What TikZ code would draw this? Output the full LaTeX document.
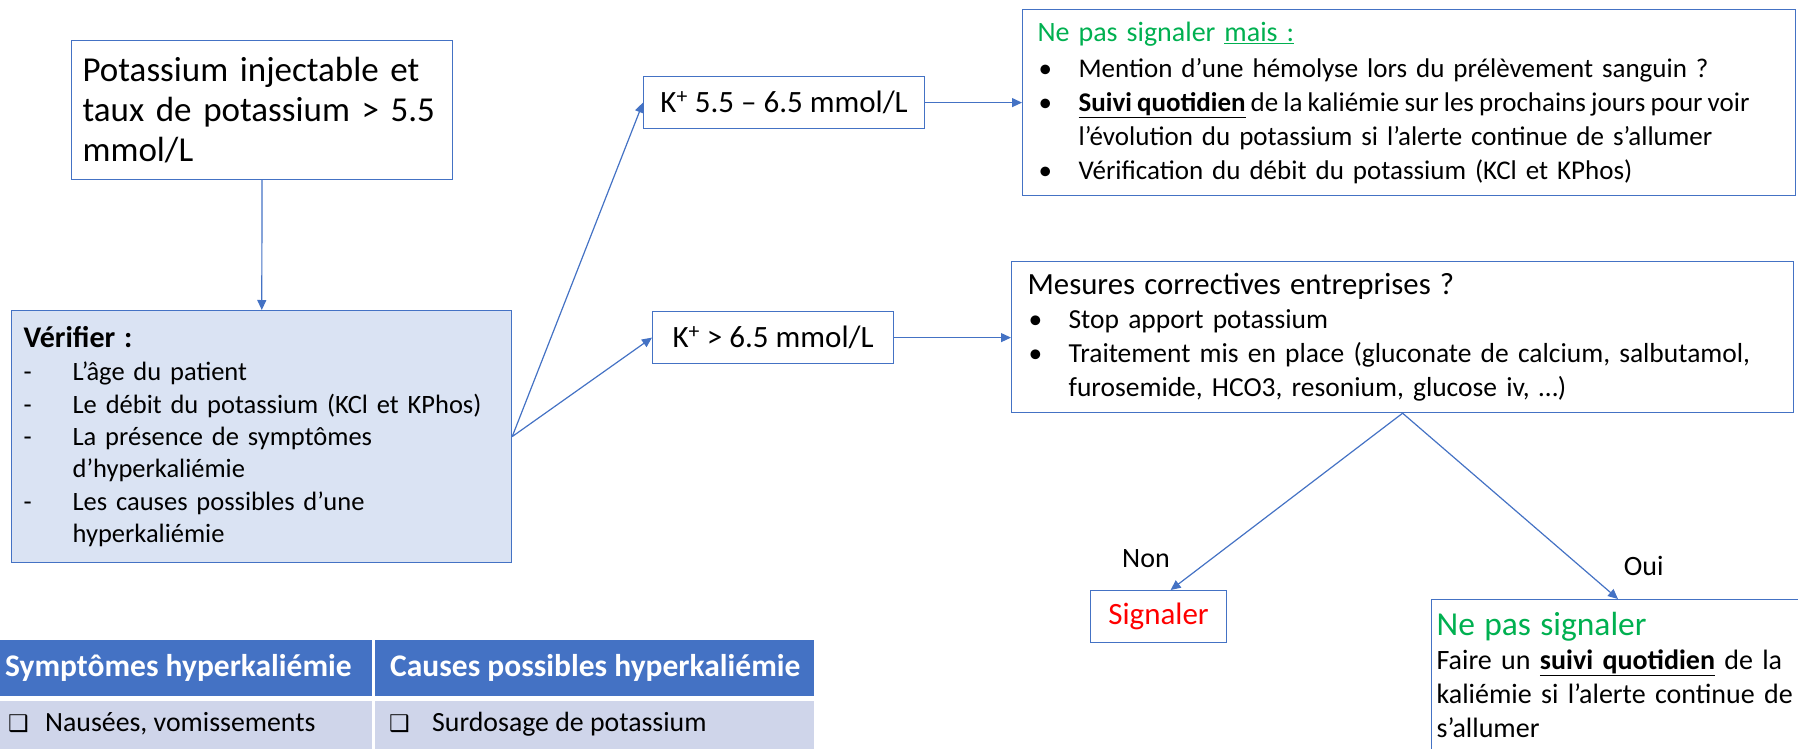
\documentclass[tikz,border=0pt]{standalone}
\usepackage{fontspec}
\setmainfont{Carlito}
\newfontfamily\symfont{DejaVu Sans}
\usetikzlibrary{arrows.meta,positioning}

\definecolor{boxblue}{HTML}{4472C4}
\definecolor{lightblue}{HTML}{DAE3F3}
\definecolor{rowblue}{HTML}{CFD5EA}
\definecolor{okgreen}{HTML}{00B050}
\definecolor{alertred}{HTML}{FF0000}

\newcommand{\bul}{\makebox[41pt][l]{\hspace{1pt}\textbullet}}
\newcommand{\ind}{\hspace*{41pt}}
\newcommand{\dsh}{\makebox[49pt][l]{-}}
\newcommand{\chk}[1]{\makebox[#1][l]{{\symfont\fontsize{23}{23}\selectfont ❑}}}

\tikzset{
	box/.style={draw=boxblue, line width=1.2pt, align=left, inner xsep=14pt, inner ysep=6pt},
	smallbox/.style={draw=boxblue, line width=1.2pt, inner sep=0pt, font=\fontsize{31}{36}\selectfont},
	lbl/.style={text=black, font=\fontsize{28}{32}\selectfont, inner sep=0pt},
	cell/.style={anchor=west, inner sep=0pt, font=\fontsize{27.8}{32}\selectfont},
	head/.style={cell, text=white, font=\bfseries\fontsize{31.5}{36}\selectfont}
}

\begin{document}
\begin{tikzpicture}[x=1pt, y=-1pt, >={Triangle[length=10pt,width=9pt]}, every edge/.append style={boxblue, line width=1.2pt}]
	\useasboundingbox (0,0) rectangle (1798,749);
	\clip (0,0) rectangle (1798,749);

	% Nodes
	\node [box, anchor=north west, inner xsep=11pt, text width=359pt, minimum height=139pt, font=\fontsize{35}{40}\selectfont]
		(pot) at (71,40) {Potassium injectable et\\ taux de potassium > 5.5\\ mmol/L};
	\node [box, fill=lightblue, anchor=north west, inner xsep=12pt, text width=476pt, minimum height=252pt, font=\fontsize{26.5}{32.3}\selectfont]
		(verif) at (11,310) {{\fontsize{30}{34}\selectfont\textbf{Vérifier :}}\\[1pt] \dsh L’âge du patient\\ \dsh Le débit du potassium (KCl et KPhos)\\
		\dsh La présence de symptômes\\ \hspace*{49pt}d’hyperkaliémie\\ \dsh Les causes possibles d’une\\ \hspace*{49pt}hyperkaliémie};
	\node [smallbox, anchor=north west, minimum width=281pt, minimum height=52pt]
		(k1) at (643,76) {K\textsuperscript{+} 5.5 – 6.5 mmol/L};
	\node [smallbox, anchor=north west, minimum width=241pt, minimum height=52pt]
		(k2) at (652,311) {K\textsuperscript{+} > 6.5 mmol/L};
	\node [box, anchor=north west, inner xsep=15pt, text width=743pt, minimum height=186pt, font=\fontsize{27}{34}\selectfont]
		(nps) at (1022,9) {{\color{okgreen}\fontsize{28}{34}\selectfont Ne pas signaler \underline{mais :}}\\[2pt]
		\bul Mention d’une hémolyse lors du prélèvement sanguin ?\\
		\mbox{\spaceskip=0.19em plus 0.05em\bul \underline{\textbf{Suivi quotidien}} de la kaliémie sur les prochains jours pour voir}\\
		\ind l’évolution du potassium si l’alerte continue de s’allumer\\
		\bul Vérification du débit du potassium (KCl et KPhos)};
	\node [box, anchor=north west, inner xsep=16pt, text width=750pt, minimum height=151pt, font=\fontsize{27.5}{34}\selectfont]
		(mes) at (1011,261) {{\fontsize{30.8}{34}\selectfont Mesures correctives entreprises ?}\\
		\bul Stop apport potassium\\
		\mbox{\bul Traitement mis en place (gluconate de calcium, salbutamol,}\\
		\ind furosemide, HCO3, resonium, glucose iv, …)};
	\node [smallbox, anchor=north west, minimum width=136pt, minimum height=52pt, text=alertred]
		(sig) at (1090,590) {Signaler};
	\node [box, anchor=north west, inner xsep=5pt, inner ysep=13pt, text width=390pt, font=\fontsize{28}{34}\selectfont]
		(nps2) at (1431,599) {{\color{okgreen}\fontsize{33.5}{38}\selectfont Ne pas signaler}\\
		Faire un \underline{\textbf{suivi quotidien}} de la\\ kaliémie si l’alerte continue de\\ s’allumer\\ \mbox{}\\ \mbox{}};

	% Table
	\fill [boxblue] (0,640) rectangle (814,696);
	\fill [rowblue] (0,701) rectangle (814,760);
	\draw [white, line width=3pt] (373.5,630) -- (373.5,760);
	\node [head] (symh) at (5,668) {Symptômes hyperkaliémie};
	\node [head] (cauh) at (390,668) {Causes possibles hyperkaliémie};
	\node [cell] (sym1) at (8,724) {\chk{37pt}Nausées, vomissements};
	\node [cell] (cau1) at (389,724) {\chk{43pt}Surdosage de potassium};

	% Paths
	\path [->] (pot) edge (verif);
	\path [->] (verif.east) edge (k1.west);
	\path [->] (verif.east) edge (k2.west);
	\path [->] (k1) edge (k1 -| nps.west);
	\path [->] (k2) edge (k2 -| mes.west);
	\path [->] (mes.south) edge node [lbl, pos=0.82, left=42pt] {Non} ([xshift=12pt]sig.north);
	\path [->] (mes.south) edge node [lbl, pos=0.82, right=44pt] {Oui} ([xshift=187pt]nps2.north west);
\end{tikzpicture}
\end{document}
